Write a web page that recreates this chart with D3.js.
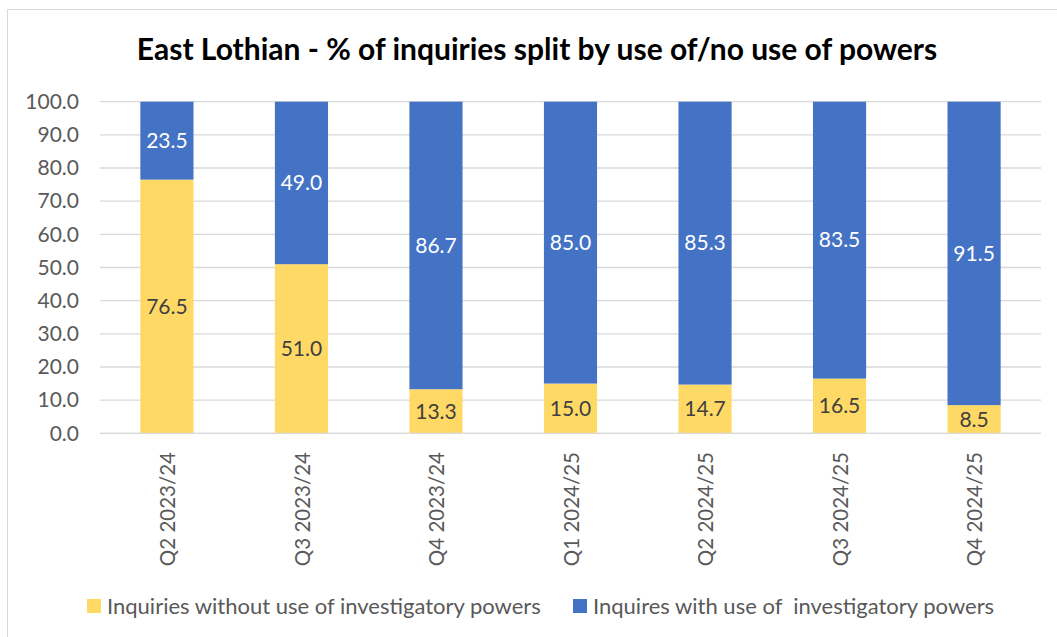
<!DOCTYPE html>
<html>
<head>
<meta charset="utf-8">
<script src="https://d3js.org/d3.v7.min.js"></script>
<style>
  body { margin: 0; background: #fff; }
  text { font-family: Lato, Carlito, Calibri, sans-serif; }
</style>
</head>
<body>
<svg id="chart" width="1057" height="637"></svg>
<script>
// quarters on the x axis
var quarters = ["Q2 2023/24", "Q3 2023/24", "Q4 2023/24", "Q1 2024/25", "Q2 2024/25", "Q3 2024/25", "Q4 2024/25"];
// % of inquiries without use of powers
var withoutPowers = [76.5, 51.0, 13.3, 15.0, 14.7, 16.5, 8.5];
// % of inquiries with use of powers
var withPowers = [23.5, 49.0, 86.7, 85.0, 85.3, 83.5, 91.5];
var yTicks = [0, 10, 20, 30, 40, 50, 60, 70, 80, 90, 100];
var seriesNames = ["Inquiries without use of investigatory powers", "Inquires with use of  investigatory powers"];
var colors = ["#FFD966", "#4472C4"];

var svg = d3.select("#chart");

// chart frame
svg.append("rect")
  .attr("x", 7.5).attr("y", 9.5)
  .attr("width", 1060).attr("height", 640)
  .attr("fill", "#fff")
  .attr("stroke", "#d9d9d9");

// title
svg.append("text")
  .attr("x", 537).attr("y", 60)
  .attr("text-anchor", "middle")
  .attr("font-size", 30).attr("font-weight", "bold")
  .attr("fill", "#000")
  .text("East Lothian - % of inquiries split by use of/no use of powers");

var margin = {top: 101.7, left: 100, right: 1041, bottom: 433.3};

var x = d3.scaleBand()
  .domain(quarters)
  .range([margin.left, margin.right])
  .paddingInner(0.605)
  .paddingOuter(0.3);

var y = d3.scaleLinear()
  .domain([0, 100])
  .range([margin.bottom, margin.top]);

// gridlines
svg.append("g")
  .selectAll("line")
  .data(yTicks)
  .join("line")
    .attr("x1", margin.left).attr("x2", margin.right)
    .attr("y1", d => y(d)).attr("y2", d => y(d))
    .attr("stroke", "#d9d9d9")
    .attr("stroke-width", 1.3);

// y axis labels
var yAxis = svg.append("g")
  .attr("transform", "translate(" + (margin.left - 8) + ",0)")
  .call(d3.axisLeft(y).tickValues(yTicks).tickFormat(d3.format(".1f")).tickSize(0).tickPadding(13));
yAxis.select(".domain").remove();
yAxis.selectAll("text")
  .attr("font-size", 21)
  .attr("fill", "#595959")
  .style("font-family", "Lato, Carlito, Calibri, sans-serif");

// stacked data
var rows = quarters.map(function(q, i) {
  return {q: q, without: withoutPowers[i], with: withPowers[i]};
});
var stack = d3.stack().keys(["without", "with"])(rows);

var layers = svg.append("g")
  .selectAll("g")
  .data(stack)
  .join("g")
    .attr("fill", (d, i) => colors[i]);

layers.selectAll("rect")
  .data(d => d)
  .join("rect")
    .attr("x", d => x(d.data.q))
    .attr("width", x.bandwidth())
    .attr("y", d => y(d[1]))
    .attr("height", d => y(d[0]) - y(d[1]));

// data labels
stack.forEach(function(layer, li) {
  svg.append("g")
    .selectAll("text")
    .data(layer)
    .join("text")
      .attr("x", d => x(d.data.q) + x.bandwidth() / 2)
      .attr("y", d => y((d[0] + d[1]) / 2))
      .attr("dy", "0.35em")
      .attr("text-anchor", "middle")
      .attr("font-size", 21)
      .attr("fill", li === 0 ? "#404040" : "#fff")
      .text(d => (d[1] - d[0]).toFixed(1));
});

// x axis line
svg.append("line")
  .attr("x1", margin.left).attr("x2", margin.right)
  .attr("y1", y(0)).attr("y2", y(0))
  .attr("stroke", "#d9d9d9")
  .attr("stroke-width", 1.3);

// x labels, rotated
svg.append("g")
  .selectAll("text")
  .data(quarters)
  .join("text")
    .attr("transform", d => "translate(" + (x(d) + x.bandwidth() / 2 + 1) + ",452) rotate(-90)")
    .attr("dy", "0.35em")
    .attr("text-anchor", "end")
    .attr("font-size", 20.5)
    .attr("fill", "#595959")
    .text(d => d);

// legend
var legendX = [87, 573];
var legend = svg.append("g")
  .selectAll("g")
  .data(seriesNames)
  .join("g")
    .attr("transform", (d, i) => "translate(" + legendX[i] + ",599)");
legend.append("rect")
  .attr("width", 14).attr("height", 14)
  .attr("fill", (d, i) => colors[i]);
legend.append("text")
  .attr("x", 20).attr("y", 7)
  .attr("dy", "0.35em")
  .attr("font-size", 22)
  .attr("fill", "#595959")
  .style("white-space", "pre")
  .text(d => d);
</script>
</body>
</html>
